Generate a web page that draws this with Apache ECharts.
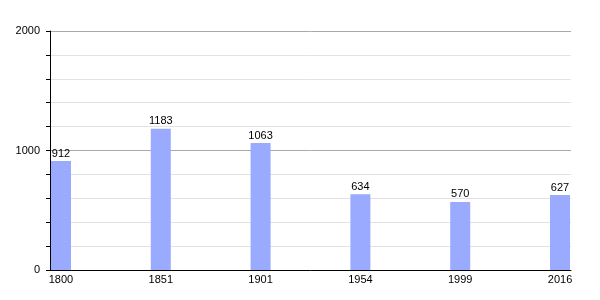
<!DOCTYPE html>
<html><head><meta charset="utf-8">
<script src="https://cdn.jsdelivr.net/npm/echarts@6/dist/echarts.min.js"></script>
<style>html,body{margin:0;padding:0;background:#fff}#c{width:600px;height:300px}</style>
</head><body><div id="c"></div>
<script>
const years = ['1800','1851','1901','1954','1999','2016'];
const population = [912, 1183, 1063, 634, 570, 627];
const yTicks = [0, 1000, 2000];

const chart = echarts.init(document.getElementById('c'), null, {renderer:'canvas'});
const font = 'Liberation Sans, Arial, sans-serif';
chart.setOption({
  animation: false,
  grid: {left: 50, right: 29, top: 31, bottom: 30},
  xAxis: {
    type: 'value', min: -0.11, max: 5.11,
    axisLine: {show: true, onZero: false, lineStyle: {color: '#000', width: 1}},
    axisTick: {show: false},
    splitLine: {show: false},
    axisLabel: {
      customValues: years.map((_, i) => i),
      formatter: v => years[Math.round(v)],
      color: '#000', fontSize: 11, fontFamily: font, margin: 4
    }
  },
  yAxis: {
    type: 'value', min: yTicks[0], max: yTicks[yTicks.length-1], interval: 1000,
    axisLine: {show: true, onZero: false, lineStyle: {color: '#000', width: 1}},
    axisTick: {show: true, length: 4, lineStyle: {color: '#000'}},
    minorTick: {show: true, splitNumber: 5, length: 4, lineStyle: {color: '#000'}},
    splitLine: {show: true, lineStyle: {color: '#aaaaaa', width: 1}},
    minorSplitLine: {show: true, lineStyle: {color: '#e2e2e2', width: 1}},
    axisLabel: {color: '#000', fontSize: 11, fontFamily: font, margin: 10, formatter: v => String(v)}
  },
  series: [{
    type: 'bar',
    data: population.map((v, i) => [i, v]),
    barWidth: 20,
    itemStyle: {color: '#99aaff'},
    label: {show: true, position: 'top', distance: 2, color: '#000', fontSize: 11, fontFamily: font}
  }]
});
</script></body></html>
